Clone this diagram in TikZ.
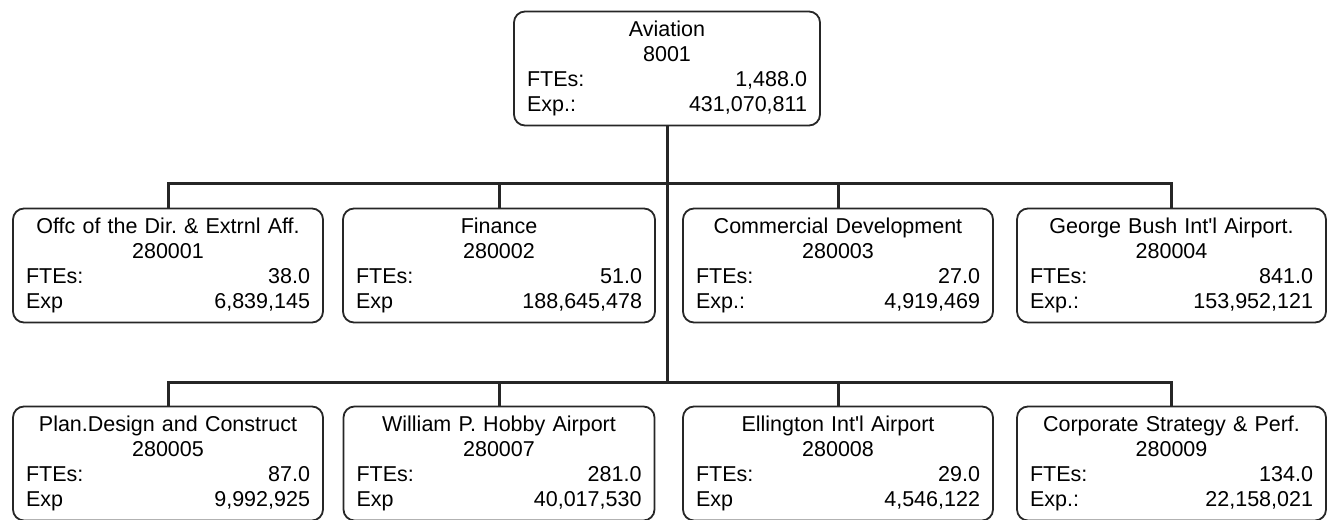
\documentclass[tikz,border=0pt]{standalone}
\usepackage{fontspec}
\newfontfamily\orgfont{Liberation Sans}
\usetikzlibrary{positioning}
\newcommand{\unitinfo}[6]{#1\\#2\\#3\hfill#4\\#5\hfill#6}

\begin{document}
\begin{tikzpicture}[x=1pt, y=-1pt, font=\orgfont\fontsize{21.5}{25}\selectfont, unit/.style={draw=black!85, line width=1.8pt, rounded corners=11pt, align=center, inner xsep=13pt, text width=284pt, minimum height=114pt}, link/.style={draw=black!85, line width=3pt}]
\useasboundingbox (0,0) rectangle (1332,519);
\node[unit, text width=280pt] (avi) at (667,68.5) {\unitinfo{Aviation}{8001}{FTEs:}{1,488.0}{Exp.:}{431,070,811}};
\node[unit] (dir) at (168,265.5) {\unitinfo{Offc of the Dir.\ \& Extrnl Aff.}{280001}{FTEs:}{38.0}{Exp}{6,839,145}};
\node[unit, text width=286pt] (fin) at (499,265.5) {\unitinfo{Finance}{280002}{FTEs:}{51.0}{Exp}{188,645,478}};
\node[unit] (com) at (838,265.5) {\unitinfo{Commercial Development}{280003}{FTEs:}{27.0}{Exp.:}{4,919,469}};
\node[unit, text width=283pt] (gbi) at (1171.5,265.5) {\unitinfo{George Bush Int'l Airport.}{280004}{FTEs:}{841.0}{Exp.:}{153,952,121}};
\node[unit] (pdc) at (168,463.5) {\unitinfo{Plan.Design and Construct}{280005}{FTEs:}{87.0}{Exp}{9,992,925}};
\node[unit, text width=285pt] (hob) at (499,463.5) {\unitinfo{William P. Hobby Airport}{280007}{FTEs:}{281.0}{Exp}{40,017,530}};
\node[unit] (ell) at (838,463.5) {\unitinfo{Ellington Int'l Airport}{280008}{FTEs:}{29.0}{Exp}{4,546,122}};
\node[unit, text width=283pt] (csp) at (1171.5,463.5) {\unitinfo{Corporate Strategy \& Perf.}{280009}{FTEs:}{134.0}{Exp.:}{22,158,021}};
% buses
\coordinate (bus1) at (667,183);
\coordinate (bus2) at (667,382);
\draw[link] (avi.south) -- (bus2);
\draw[link] (dir.north) |- (bus1) -| (gbi.north);
\draw[link] (pdc.north) |- (bus2) -| (csp.north);
\foreach \u in {fin,com}
  \draw[link] (\u.north) -- (\u.north |- bus1);
\foreach \u in {hob,ell}
  \draw[link] (\u.north) -- (\u.north |- bus2);
\end{tikzpicture}
\end{document}
